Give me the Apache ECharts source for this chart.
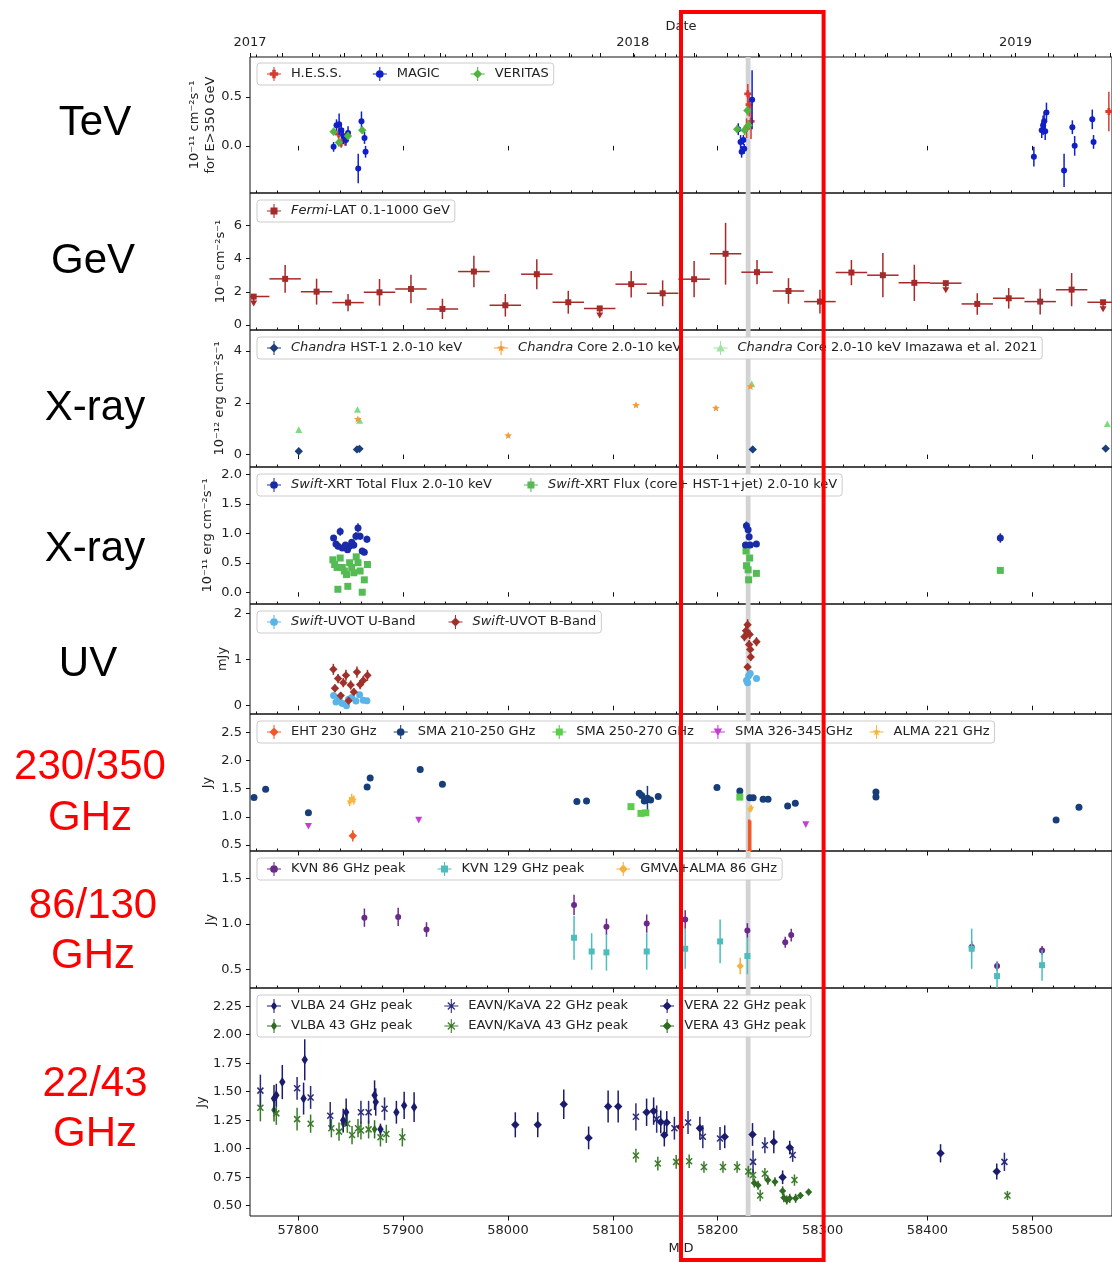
<!DOCTYPE html>
<html>
<head>
<meta charset="utf-8">
<script src="https://cdn.jsdelivr.net/npm/echarts@6/dist/echarts.min.js"></script>
<style>
  html, body { margin: 0; padding: 0; background: #ffffff; }
  #chart { width: 1112px; height: 1262px; }
</style>
</head>
<body>
<div id="chart"></div>
<script>
// ---------------------------------------------------------------
// Multi-wavelength light curves of M87, 2017-2019.
// Each point: [MJD, value, error]  (Fermi adds [.., x-half-width, upper-limit flag])
// ---------------------------------------------------------------

// TeV (10^-11 cm^-2 s^-1, E > 350 GeV)
const TEV_HESS = [
  [57838.5, 0.12, 0.06], [57841.0, 0.03, 0.05], [57844.5, 0.06, 0.06],
  [58227.5, 0.18, 0.10], [58228.7, 0.53, 0.10], [58230.0, 0.42, 0.12], [58231.8, 0.25, 0.18],
  [58573.0, 0.35, 0.20]
];
const TEV_MAGIC = [
  [57833.7, -0.01, 0.05], [57836.5, 0.21, 0.06], [57839.0, 0.22, 0.11], [57841.0, 0.16, 0.06],
  [57843.0, 0.10, 0.08], [57845.5, 0.06, 0.06], [57847.5, 0.13, 0.07],
  [57857.2, -0.23, 0.15], [57860.3, 0.25, 0.10], [57863.2, 0.08, 0.06], [57864.2, -0.06, 0.06],
  [58219.6, 0.17, 0.06], [58221.8, 0.04, 0.07], [58222.8, -0.06, 0.06], [58224.5, 0.06, 0.05],
  [58225.3, -0.03, 0.05], [58232.8, 0.47, 0.30],
  [58501.5, -0.11, 0.10], [58509.0, 0.16, 0.08], [58510.3, 0.21, 0.10], [58511.3, 0.25, 0.10],
  [58512.3, 0.15, 0.09], [58513.5, 0.34, 0.10], [58530.3, -0.25, 0.17], [58538.2, 0.19, 0.07],
  [58540.4, 0.00, 0.10], [58557.2, 0.27, 0.10], [58558.4, 0.04, 0.07]
];
const TEV_VERITAS = [
  [57833.7, 0.145, 0.04], [57838.8, 0.034, 0.04], [57847.4, 0.10, 0.04], [57861.0, 0.16, 0.04],
  [58218.6, 0.17, 0.04], [58225.6, 0.16, 0.05], [58228.3, 0.36, 0.05], [58229.4, 0.21, 0.05]
];

// GeV (10^-8 cm^-2 s^-1), 30-day bins: [MJD, flux, err, half-bin, upper limit]
const FERMI_LAT = [
  [57757.5, 1.71, 0, 15, 1], [57787.5, 2.78, 0.84, 15, 0], [57817.5, 2.01, 0.78, 15, 0],
  [57847.5, 1.35, 0.52, 15, 0], [57877.5, 1.97, 0.80, 15, 0], [57907.5, 2.17, 0.86, 15, 0],
  [57937.5, 0.97, 0.61, 15, 0], [57967.5, 3.22, 0.95, 15, 0], [57997.5, 1.19, 0.68, 15, 0],
  [58027.5, 3.06, 0.90, 15, 0], [58057.5, 1.37, 0.69, 15, 0], [58087.5, 1.00, 0, 15, 1],
  [58117.5, 2.46, 0.80, 15, 0], [58147.5, 1.91, 0.78, 15, 0], [58177.5, 2.76, 1.09, 15, 0],
  [58207.5, 4.29, 1.86, 15, 0], [58237.5, 3.18, 0.73, 15, 0], [58267.5, 2.05, 0.77, 15, 0],
  [58297.5, 1.41, 0.72, 15, 0], [58327.5, 3.16, 0.76, 15, 0], [58357.5, 3.00, 1.33, 15, 0],
  [58387.5, 2.54, 1.09, 15, 0], [58417.5, 2.52, 0, 15, 1], [58447.5, 1.27, 0.65, 15, 0],
  [58477.5, 1.61, 0.62, 15, 0], [58507.5, 1.41, 0.78, 15, 0], [58537.5, 2.13, 1.00, 15, 0],
  [58567.5, 1.37, 0, 15, 1]
];

// Chandra (10^-12 erg cm^-2 s^-1)
const CHANDRA_HST1 = [
  [57800.5, 0.13, 0.02], [57856.0, 0.20, 0.02], [57858.4, 0.22, 0.02], [58233.4, 0.20, 0.02], [58570.0, 0.23, 0.02]
];
const CHANDRA_CORE = [
  [57856.8, 1.36, 0.03], [58000.2, 0.73, 0.03], [58122.1, 1.90, 0.03], [58198.3, 1.79, 0.03], [58231.2, 2.62, 0.03]
];
const CHANDRA_CORE_IMAZAWA = [
  [57800.5, 0.94, 0.03], [57856.5, 1.72, 0.03], [57858.5, 1.30, 0.03], [58232.5, 2.71, 0.03], [58571.5, 1.17, 0.03]
];

// Swift-XRT (10^-11 erg cm^-2 s^-1)
const XRT_TOTAL = [
  [57833.7, 0.92, 0.05], [57836.0, 0.82, 0.05], [57838.0, 0.78, 0.05], [57840.0, 1.03, 0.07],
  [57842.0, 0.75, 0.05], [57845.0, 0.80, 0.05], [57847.0, 0.72, 0.05], [57849.0, 0.78, 0.05],
  [57851.0, 0.85, 0.05], [57853.0, 0.80, 0.06], [57855.0, 0.95, 0.07], [57857.0, 1.09, 0.08],
  [57859.0, 0.95, 0.06], [57861.0, 0.70, 0.05], [57863.0, 0.68, 0.05], [57865.5, 0.90, 0.06],
  [58226.5, 0.80, 0.05], [58227.4, 1.13, 0.07], [58229.0, 1.06, 0.06], [58230.0, 0.94, 0.06],
  [58231.0, 0.80, 0.05], [58236.9, 0.82, 0.05], [58469.5, 0.92, 0.08]
];
const XRT_CORE_JET = [
  [57833.0, 0.55, 0.02], [57834.7, 0.47, 0.02], [57837.0, 0.42, 0.02], [57837.8, 0.05, 0.02],
  [57840.0, 0.58, 0.02], [57842.0, 0.42, 0.02], [57844.0, 0.36, 0.02], [57846.0, 0.30, 0.02],
  [57847.3, 0.10, 0.02], [57849.0, 0.50, 0.02], [57851.0, 0.42, 0.02], [57853.0, 0.33, 0.02],
  [57855.3, 0.60, 0.02], [57857.0, 0.50, 0.02], [57859.0, 0.36, 0.02], [57861.0, 0.00, 0.02],
  [57863.0, 0.21, 0.02], [57866.0, 0.47, 0.02],
  [58227.0, 0.70, 0.02], [58230.5, 0.58, 0.02], [58227.5, 0.45, 0.02], [58229.0, 0.38, 0.02],
  [58229.5, 0.21, 0.02], [58236.9, 0.32, 0.02], [58469.5, 0.37, 0.02]
];

// Swift-UVOT (mJy)
const UVOT_U = [
  [57833.7, 0.22, 0.03], [57836.0, 0.08, 0.03], [57839.0, 0.15, 0.03], [57842.0, 0.05, 0.03],
  [57846.0, 0.00, 0.03], [57848.0, 0.14, 0.03], [57851.0, 0.18, 0.03], [57855.0, 0.10, 0.03],
  [57858.5, 0.24, 0.03], [57862.0, 0.12, 0.03], [57865.5, 0.11, 0.03],
  [58227.5, 0.55, 0.03], [58228.5, 0.50, 0.03], [58229.5, 0.65, 0.03], [58231.0, 0.70, 0.03], [58237.0, 0.59, 0.03]
];
const UVOT_B = [
  [57833.5, 0.79, 0.12], [57835.0, 0.38, 0.08], [57838.0, 0.59, 0.10], [57840.5, 0.22, 0.08],
  [57843.0, 0.50, 0.10], [57845.5, 0.66, 0.12], [57848.0, 0.11, 0.08], [57850.0, 0.45, 0.10],
  [57853.0, 0.30, 0.08], [57856.0, 0.73, 0.12], [57859.0, 0.46, 0.10], [57862.0, 0.55, 0.10],
  [57866.0, 0.66, 0.12],
  [58225.5, 1.50, 0.10], [58227.0, 1.63, 0.12], [58228.5, 1.76, 0.12], [58230.0, 1.33, 0.10],
  [58230.5, 1.55, 0.10], [58231.0, 1.22, 0.08], [58231.5, 1.06, 0.08], [58228.5, 0.84, 0.06],
  [58237.0, 1.39, 0.10]
];

// 230/350 GHz (Jy)
const EHT_230 = [[57852.0, 0.66, 0.10], [58229.5, 0.35, 0.60], [58230.5, 0.35, 0.60], [58231.5, 0.35, 0.58]];
const SMA_210_250 = [
  [57757.8, 1.345, 0.03], [57768.9, 1.49, 0.05], [57809.7, 1.07, 0.03], [57865.7, 1.53, 0.05],
  [57868.6, 1.69, 0.05], [57916.3, 1.84, 0.05], [57937.5, 1.58, 0.04], [58065.7, 1.27, 0.03],
  [58074.9, 1.28, 0.03], [58125.2, 1.42, 0.04], [58127.5, 1.38, 0.04], [58130.0, 1.28, 0.04],
  [58133.0, 1.33, 0.22], [58136.0, 1.30, 0.04], [58143.3, 1.36, 0.03], [58199.3, 1.52, 0.04],
  [58221.1, 1.46, 0.03], [58230.6, 1.34, 0.03], [58233.8, 1.34, 0.03], [58243.3, 1.31, 0.03],
  [58248.0, 1.31, 0.03], [58266.7, 1.19, 0.03], [58274.0, 1.24, 0.03], [58350.9, 1.44, 0.04],
  [58350.9, 1.35, 0.03], [58522.7, 0.94, 0.02], [58544.5, 1.17, 0.03]
];
const SMA_250_270 = [[58117.3, 1.18, 0.02], [58126.8, 1.06, 0.02], [58131.5, 1.07, 0.02], [58221.1, 1.35, 0.02]];
const SMA_326_345 = [[57809.7, 0.84, 0], [57914.9, 0.95, 0], [58284.0, 0.87, 0]];
const ALMA_221 = [[57849.0, 1.27, 0.08], [57851.0, 1.33, 0.08], [57853.0, 1.30, 0.08], [58230.8, 1.13, 0.05], [58232.0, 1.16, 0.05]];

// 86/130 GHz (Jy)
const KVN_86 = [
  [57863.1, 1.07, 0.10], [57895.3, 1.078, 0.10], [57922.3, 0.94, 0.08], [58063.0, 1.21, 0.11],
  [58093.9, 0.97, 0.09], [58132.3, 1.005, 0.10], [58169.0, 1.05, 0.10], [58228.3, 0.93, 0.08],
  [58264.4, 0.80, 0.06], [58270.1, 0.88, 0.07], [58442.2, 0.75, 0.06], [58466.4, 0.54, 0.05],
  [58509.3, 0.71, 0.05]
];
const KVN_129 = [
  [58063.0, 0.85, 0.24], [58079.8, 0.70, 0.20], [58093.9, 0.69, 0.20], [58132.3, 0.70, 0.20],
  [58169.0, 0.73, 0.22], [58202.3, 0.81, 0.24], [58228.3, 0.65, 0.20], [58442.2, 0.73, 0.22],
  [58466.4, 0.43, 0.15], [58509.3, 0.55, 0.17]
];
const GMVA_ALMA_86 = [[58221.5, 0.54, 0.09]];

// 22/43 GHz (Jy)
const VLBA_24 = [
  [57776.9, 1.44, 0.12], [57779.1, 1.47, 0.10], [57784.8, 1.585, 0.15], [57805.1, 1.44, 0.14],
  [57806.2, 1.78, 0.18], [57842.9, 1.25, 0.10], [57845.7, 1.32, 0.12], [57872.8, 1.47, 0.13],
  [57873.9, 1.41, 0.12], [57878.4, 1.17, 0.05], [57893.6, 1.32, 0.10], [57901.0, 1.38, 0.12],
  [57910.5, 1.365, 0.13]
];
const EAVN_22 = [
  [57763.9, 1.51, 0.14], [57798.9, 1.53, 0.10], [57811.8, 1.45, 0.10], [57830.5, 1.29, 0.12],
  [57859.8, 1.32, 0.10], [57867.1, 1.32, 0.10], [57882.3, 1.35, 0.10], [58122.0, 1.28, 0.12],
  [58141.8, 1.26, 0.12], [58158.7, 1.18, 0.10], [58171.7, 1.23, 0.10], [58185.8, 1.105, 0.10],
  [58202.2, 1.09, 0.10], [58233.7, 0.885, 0.10], [58245.0, 1.03, 0.07], [58271.5, 0.945, 0.06],
  [58473.4, 0.885, 0.08]
];
const VERA_22 = [
  [58007.0, 1.21, 0.11], [58028.4, 1.21, 0.11], [58053.2, 1.39, 0.13], [58076.9, 1.095, 0.10],
  [58095.5, 1.37, 0.14], [58105.1, 1.37, 0.14], [58132.2, 1.32, 0.12], [58138.9, 1.33, 0.12],
  [58145.7, 1.235, 0.10], [58149.1, 1.12, 0.10], [58151.4, 1.23, 0.10], [58164.4, 1.19, 0.10],
  [58183.0, 1.18, 0.10], [58206.7, 1.105, 0.10], [58233.2, 1.125, 0.10], [58253.5, 1.06, 0.10],
  [58261.9, 0.75, 0.06], [58268.7, 1.01, 0.06], [58412.5, 0.96, 0.08], [58466.1, 0.80, 0.07]
];
const VLBA_43 = [
  [57776.9, 1.34, 0.10], [57842.9, 1.22, 0.08], [57872.8, 1.17, 0.08]
];
const EAVN_43 = [
  [57763.9, 1.36, 0.12], [57779.1, 1.31, 0.10], [57798.9, 1.26, 0.10], [57811.8, 1.22, 0.08],
  [57831.6, 1.18, 0.08], [57838.9, 1.15, 0.08], [57846.8, 1.22, 0.08], [57851.3, 1.12, 0.08],
  [57857.0, 1.18, 0.08], [57859.8, 1.16, 0.08], [57867.1, 1.17, 0.08], [57878.4, 1.10, 0.08],
  [57884.0, 1.13, 0.08], [57899.3, 1.10, 0.08], [58122.0, 0.94, 0.06], [58142.9, 0.87, 0.06],
  [58160.4, 0.885, 0.06], [58172.8, 0.89, 0.06], [58186.9, 0.84, 0.05], [58205.0, 0.84, 0.05],
  [58218.5, 0.84, 0.05], [58229.2, 0.80, 0.05], [58233.7, 0.77, 0.05], [58240.5, 0.59, 0.05],
  [58245.0, 0.78, 0.05], [58273.2, 0.725, 0.05], [58476.3, 0.59, 0.04]
];
const VERA_43 = [
  [58234.9, 0.70, 0.04], [58238.5, 0.68, 0.04], [58247.8, 0.725, 0.04], [58254.6, 0.71, 0.04],
  [58261.9, 0.63, 0.04], [58263.1, 0.57, 0.04], [58265.9, 0.55, 0.04], [58268.7, 0.565, 0.04],
  [58274.3, 0.565, 0.04], [58278.9, 0.59, 0.03], [58286.7, 0.62, 0.03]
];

// Axis ticks
const MJD_TICKS = [57800, 57900, 58000, 58100, 58200, 58300, 58400, 58500];
const YEAR_TICKS = [57754, 58119, 58484];            // 1 Jan 2017 / 2018 / 2019
const Y_TICKS = [
  [0, 0.5],
  [0, 2, 4, 6],
  [0, 2, 4],
  [0, 0.5, 1.0, 1.5, 2.0],
  [0, 1, 2],
  [0.5, 1.0, 1.5, 2.0, 2.5],
  [0.5, 1.0, 1.5],
  [0.5, 0.75, 1.0, 1.25, 1.5, 1.75, 2.0, 2.25]
];
const Y_DECIMALS = [1, 0, 0, 1, 0, 1, 1, 2];
const Y_RANGES = [
  [-0.48, 0.905], [-0.3, 7.95], [-0.48, 4.81], [-0.2, 2.125],
  [-0.18, 2.21], [0.39, 2.83], [0.30, 1.80], [0.41, 2.41]
];
const Y_NAMES = [
  '10⁻¹¹ cm⁻²s⁻¹\nfor E>350 GeV', '10⁻⁸ cm⁻²s⁻¹', '10⁻¹² erg cm⁻²s⁻¹', '10⁻¹¹ erg cm⁻²s⁻¹',
  'mJy', 'Jy', 'Jy', 'Jy'
];
const BAND_LABELS = [
  ['TeV'], ['GeV'], ['X-ray'], ['X-ray'], ['UV'],
  ['230/350', 'GHz'], ['86/130', 'GHz'], ['22/43', 'GHz']
];

const X_MIN = 57754, X_MAX = 58576;
const EHT_WINDOW = [58226.7, 58231.3];
const HIGHLIGHT = [58165, 58301];

// ---------------- layout ----------------
const FONT = "'DejaVu Sans', Verdana, sans-serif";
const TXT = '#222222';
const PANEL_TOP = [57, 193, 330, 467, 604, 714, 851, 988];
const PANEL_H   = [136, 137, 137, 137, 110, 137, 137, 228];
const NAME_GAP  = [31, 21, 22, 34, 19, 34, 31, 40];
const LABEL_POS = [[95, 123], [93, 261], [95, 408], [95, 549], [88, 664],
                   [90, 767, 818], [93, 906, 956], [95, 1084, 1134]];

// ---------------- marker shapes ----------------
function markerEl(sym, cx, cy, s, col) {
  const r = s / 2;
  const poly = pts => ({ type: 'polygon', shape: { points: pts }, style: { fill: col } });
  switch (sym) {
    case 'o': return { type: 'circle', shape: { cx, cy, r }, style: { fill: col } };
    case 's': return { type: 'rect', shape: { x: cx - r, y: cy - r, width: s, height: s }, style: { fill: col } };
    case 'D': return poly([[cx, cy - r * 1.2], [cx + r * 1.2, cy], [cx, cy + r * 1.2], [cx - r * 1.2, cy]]);
    case 'd': return poly([[cx, cy - r * 1.25], [cx + r * 0.8, cy], [cx, cy + r * 1.25], [cx - r * 0.8, cy]]);
    case '^': return poly([[cx, cy - r * 1.1], [cx + r, cy + r * 0.8], [cx - r, cy + r * 0.8]]);
    case 'v': return poly([[cx - r, cy - r * 0.8], [cx + r, cy - r * 0.8], [cx, cy + r * 1.1]]);
    case '*': {
      const pts = [];
      for (let k = 0; k < 10; k++) {
        const a = -Math.PI / 2 + k * Math.PI / 5, rr = k % 2 ? r * 0.5 : r * 1.15;
        pts.push([cx + rr * Math.cos(a), cy + rr * Math.sin(a)]);
      }
      return poly(pts);
    }
    case 'P': {
      const w = r * 0.4;
      return poly([[cx - w, cy - r], [cx + w, cy - r], [cx + w, cy - w], [cx + r, cy - w], [cx + r, cy + w],
        [cx + w, cy + w], [cx + w, cy + r], [cx - w, cy + r], [cx - w, cy + w], [cx - r, cy + w],
        [cx - r, cy - w], [cx - w, cy - w]]);
    }
    case 'x': return {
      type: 'group', children: [
        { type: 'line', shape: { x1: cx - r, y1: cy - r, x2: cx + r, y2: cy + r }, style: { stroke: col, lineWidth: 1.5 } },
        { type: 'line', shape: { x1: cx - r, y1: cy + r, x2: cx + r, y2: cy - r }, style: { stroke: col, lineWidth: 1.5 } }
      ]
    };
  }
}

const BAR = 'M9.25 0h1.5v20h-1.5z M0 9.25h20v1.5h-20z ';
const ICON = {
  o: 'path://' + BAR + 'M15.5 10A5.5 5.5 0 1 1 4.5 10A5.5 5.5 0 1 1 15.5 10z',
  s: 'path://' + BAR + 'M5 5h10v10h-10z',
  D: 'path://' + BAR + 'M10 3.5L16.5 10L10 16.5L3.5 10z',
  d: 'path://' + BAR + 'M10 3.5L14.5 10L10 16.5L5.5 10z',
  '^': 'path://' + BAR + 'M10 4L16 15L4 15z',
  v: 'path://' + BAR + 'M4 5L16 5L10 16z',
  '*': 'path://' + BAR + 'M10 4L11.47 7.98L15.71 8.15L12.38 10.77L13.53 14.85L10 12.5L6.47 14.85L7.62 10.77L4.29 8.15L8.53 7.98z',
  P: 'path://' + BAR + 'M7.5 4h5v3.5h3.5v5h-3.5v3.5h-5v-3.5h-3.5v-5h3.5z',
  x: 'path://' + BAR + 'M4.4 5.6L5.6 4.4L15.6 14.4L14.4 15.6z M14.4 4.4L15.6 5.6L5.6 15.6L4.4 14.4z'
};

// error-bar point renderer
function errRenderer(sym, size, lw) {
  return function (params, api) {
    const x = api.value(0), y = api.value(1), ye = api.value(2), xe = api.value(3), ul = api.value(4);
    const col = api.visual('color');
    const c = api.coord([x, y]);
    const kids = [];
    if (ye > 0) {
      const a = api.coord([x, y - ye]), b = api.coord([x, y + ye]);
      kids.push({ type: 'line', shape: { x1: c[0], y1: a[1], x2: c[0], y2: b[1] }, style: { stroke: col, lineWidth: lw } });
    }
    if (xe > 0) {
      const a = api.coord([x - xe, y]), b = api.coord([x + xe, y]);
      kids.push({ type: 'line', shape: { x1: a[0], y1: c[1], x2: b[0], y2: c[1] }, style: { stroke: col, lineWidth: lw } });
    }
    if (ul > 0) {
      kids.push({ type: 'line', shape: { x1: c[0], y1: c[1], x2: c[0], y2: c[1] + 6 }, style: { stroke: col, lineWidth: lw } });
      kids.push({ type: 'polygon', shape: { points: [[c[0] - 3.5, c[1] + 4], [c[0] + 3.5, c[1] + 4], [c[0], c[1] + 10]] }, style: { fill: col } });
    }
    kids.push(markerEl(sym, c[0], c[1], size, col));
    return { type: 'group', children: kids };
  };
}

const SERIES_DEF = [
  // [name, panel, data, symbol, color, size, opacity]
  ['H.E.S.S.', 0, TEV_HESS, 'P', '#d43d2f', 7],
  ['MAGIC', 0, TEV_MAGIC, 'o', '#1020c8', 6],
  ['VERITAS', 0, TEV_VERITAS, 'D', '#52b440', 7],
  ['Fermi-LAT 0.1-1000 GeV', 1, FERMI_LAT, 's', '#a62a2a', 6],
  ['Chandra HST-1 2.0-10 keV', 2, CHANDRA_HST1, 'D', '#1c3f7c', 7],
  ['Chandra Core 2.0-10 keV Imazawa et al. 2021', 2, CHANDRA_CORE_IMAZAWA, '^', '#7fdb7f', 7, 0.75],
  ['Chandra Core 2.0-10 keV', 2, CHANDRA_CORE, '*', '#f39a3a', 7],
  ['Swift-XRT Flux (core+ HST-1+jet) 2.0-10 keV', 3, XRT_CORE_JET, 's', '#55bb55', 7],
  ['Swift-XRT Total Flux 2.0-10 keV', 3, XRT_TOTAL, 'o', '#1a2ba8', 7],
  ['Swift-UVOT U-Band', 4, UVOT_U, 'o', '#5ab4e8', 7],
  ['Swift-UVOT B-Band', 4, UVOT_B, 'D', '#a0302a', 7],
  ['EHT 230 GHz', 5, EHT_230, 'D', '#f0582a', 7],
  ['SMA 210-250 GHz', 5, SMA_210_250, 'o', '#173d7a', 7],
  ['SMA 250-270 GHz', 5, SMA_250_270, 's', '#5ccc4c', 7],
  ['SMA 326-345 GHz', 5, SMA_326_345, 'v', '#c43fcf', 7],
  ['ALMA 221 GHz', 5, ALMA_221, '*', '#f7b53e', 6],
  ['KVN 86 GHz peak', 6, KVN_86, 'o', '#6a2a8c', 6],
  ['KVN 129 GHz peak', 6, KVN_129, 's', '#4cbcbc', 6],
  ['GMVA+ALMA 86 GHz', 6, GMVA_ALMA_86, 'D', '#f5b041', 6],
  ['VLBA 43 GHz peak', 7, VLBA_43, 'd', '#2f6b22', 7],
  ['EAVN/KaVA 43 GHz peak', 7, EAVN_43, 'x', '#3a7a2a', 6],
  ['VERA 43 GHz peak', 7, VERA_43, 'D', '#2f6b22', 6],
  ['VLBA 24 GHz peak', 7, VLBA_24, 'd', '#1c1c6e', 8],
  ['EAVN/KaVA 22 GHz peak', 7, EAVN_22, 'x', '#2a2a7a', 6],
  ['VERA 22 GHz peak', 7, VERA_22, 'D', '#1c1c6e', 7]
];
const SYM_OF = {};
SERIES_DEF.forEach(d => { SYM_OF[d[0]] = d[3]; });

const LEGENDS = [
  { panel: 0, items: ['H.E.S.S.', 'MAGIC', 'VERITAS'], gap: 31, top: 63 },
  { panel: 1, items: ['Fermi-LAT 0.1-1000 GeV'], gap: 31, top: 200 },
  { panel: 2, items: ['Chandra HST-1 2.0-10 keV', 'Chandra Core 2.0-10 keV', 'Chandra Core 2.0-10 keV Imazawa et al. 2021'], gap: 32, top: 337 },
  { panel: 3, items: ['Swift-XRT Total Flux 2.0-10 keV', 'Swift-XRT Flux (core+ HST-1+jet) 2.0-10 keV'], gap: 32, top: 474 },
  { panel: 4, items: ['Swift-UVOT U-Band', 'Swift-UVOT B-Band'], gap: 33, top: 611 },
  { panel: 5, items: ['EHT 230 GHz', 'SMA 210-250 GHz', 'SMA 250-270 GHz', 'SMA 326-345 GHz', 'ALMA 221 GHz'], gap: 17, top: 721 },
  { panel: 6, items: ['KVN 86 GHz peak', 'KVN 129 GHz peak', 'GMVA+ALMA 86 GHz'], gap: 32, top: 858 },
  { panel: 7, items: ['VLBA 24 GHz peak', 'EAVN/KaVA 22 GHz peak', 'VERA 22 GHz peak'], gap: 32, top: 995, tall: true },
  { panel: 7, items: ['VLBA 43 GHz peak', 'EAVN/KaVA 43 GHz peak', 'VERA 43 GHz peak'], gap: 32, top: 1015, bare: true }
];

function legendLabel(name) {
  for (const p of ['Fermi', 'Chandra', 'Swift']) {
    if (name.startsWith(p)) return '{it|' + p + '}' + name.slice(p.length);
  }
  return name;
}

// ---------------- build option ----------------
const minorTicks = [];
for (let v = 57760; v < X_MAX; v += 20) if (v % 100 !== 0) minorTicks.push(v);
const monthTicks = [];
for (let y = 2017; y <= 2019; y++) {
  for (let m = 0; m < 12; m++) {
    const mjd = Date.UTC(y, m, 1) / 86400000 + 40587;
    if (mjd >= X_MIN && mjd <= X_MAX) monthTicks.push(mjd);
  }
}

const grid = [], xAxis = [], yAxis = [], series = [];
for (let i = 0; i < 8; i++) {
  grid.push({ left: 250, right: -4, top: PANEL_TOP[i], height: PANEL_H[i], show: true,
    borderColor: '#111', borderWidth: 1, backgroundColor: 'transparent' });
  const last = i === 7;
  xAxis.push({
    type: 'value', gridIndex: i, min: X_MIN, max: X_MAX,
    axisLine: { show: false }, splitLine: { show: false },
    axisTick: { show: true, customValues: MJD_TICKS, length: 4.5, lineStyle: { color: '#111', width: 1 } },
    axisLabel: { show: last, customValues: MJD_TICKS, formatter: v => String(Math.round(v)),
      fontFamily: FONT, fontSize: 13, color: TXT, margin: 8 },
    name: last ? 'MJD' : '', nameLocation: 'middle', nameGap: 26, nameMoveOverlap: false,
    nameTextStyle: { fontFamily: FONT, fontSize: 13, color: TXT }
  });
  xAxis.push({
    type: 'value', gridIndex: i, min: X_MIN, max: X_MAX,
    axisLine: { show: false }, splitLine: { show: false },
    axisTick: { show: true, customValues: minorTicks, length: 2.5, lineStyle: { color: '#111', width: 1 } },
    axisLabel: { show: false }
  });
  const dec = Y_DECIMALS[i];
  yAxis.push({
    type: 'value', gridIndex: i, min: Y_RANGES[i][0], max: Y_RANGES[i][1],
    axisLine: { show: false }, splitLine: { show: false },
    axisTick: { show: true, customValues: Y_TICKS[i], length: 4, lineStyle: { color: '#111', width: 1 } },
    axisLabel: { customValues: Y_TICKS[i], formatter: v => Number(v).toFixed(dec),
      fontFamily: FONT, fontSize: 13, color: TXT, margin: 8 },
    name: Y_NAMES[i], nameLocation: 'middle', nameRotate: 90, nameGap: NAME_GAP[i], nameMoveOverlap: false,
    nameTextStyle: { fontFamily: FONT, fontSize: 13, color: TXT, lineHeight: 16 }
  });
  // grey observing window
  series.push({
    type: 'custom', xAxisIndex: 2 * i, yAxisIndex: i, z: 1, silent: true,
    data: [EHT_WINDOW], encode: { x: [0, 1] }, clip: true,
    renderItem: (params, api) => {
      const a = api.coord([api.value(0), Y_RANGES[i][0]]);
      const b = api.coord([api.value(1), Y_RANGES[i][0]]);
      const cs = params.coordSys;
      return { type: 'rect', shape: { x: a[0], y: cs.y, width: b[0] - a[0], height: cs.height }, style: { fill: '#d3d3d3' } };
    }
  });
}
// calendar axis on top
xAxis.push({
  type: 'value', gridIndex: 0, position: 'top', min: X_MIN, max: X_MAX,
  axisLine: { show: false }, splitLine: { show: false },
  axisTick: { show: true, customValues: monthTicks, length: 4, lineStyle: { color: '#111', width: 1 } },
  axisLabel: { customValues: YEAR_TICKS, formatter: v => String(new Date((v - 40587) * 86400000).getUTCFullYear()),
    fontFamily: FONT, fontSize: 13, color: TXT, margin: 8 },
  name: 'Date', nameLocation: 'middle', nameGap: 24,
  nameTextStyle: { fontFamily: FONT, fontSize: 13, color: TXT }
});

SERIES_DEF.forEach(([name, panel, data, sym, color, size, alpha]) => {
  series.push({
    type: 'custom', name, xAxisIndex: 2 * panel, yAxisIndex: panel, z: 3, clip: true,
    itemStyle: { color, opacity: alpha || 1 },
    dimensions: ['x', 'y', 'ye', 'xe', 'ul'],
    encode: { x: 0, y: 1 },
    data: data.map(d => [d[0], d[1], d[2] || 0, d[3] || 0, d[4] || 0]),
    renderItem: errRenderer(sym, size, 1.5)
  });
});

const legend = LEGENDS.map(L => ({
  left: 257, top: L.top, orient: 'horizontal', itemGap: L.gap,
  itemWidth: 14, itemHeight: 14, selectedMode: false, z: 10,
  padding: L.tall ? [4, 5, 24, 10] : [4, 5, 4, 10],
  backgroundColor: L.bare ? 'transparent' : 'rgba(255,255,255,0.85)',
  borderColor: L.bare ? 'transparent' : '#cccccc', borderWidth: L.bare ? 0 : 1, borderRadius: 3,
  data: L.items.map(n => ({ name: n, icon: ICON[SYM_OF[n]] })),
  formatter: legendLabel,
  textStyle: { fontFamily: FONT, fontSize: 13, color: TXT, padding: [0, 0, 0, 5],
    rich: { it: { fontFamily: FONT, fontSize: 13, color: TXT, fontStyle: 'italic' } } }
}));

const chart = echarts.init(document.getElementById('chart'), null, { width: 1112, height: 1262 });
chart.setOption({
  animation: false,
  backgroundColor: '#ffffff',
  grid, xAxis, yAxis, series, legend
});

// band labels on the left and the highlighted interval frame
const graphics = [];
BAND_LABELS.forEach((lines, i) => {
  const pos = LABEL_POS[i];
  lines.forEach((t, k) => {
    graphics.push({
      type: 'text', x: pos[0], y: pos[1 + k], z: 20,
      style: { text: t, fill: i >= 5 ? '#ff0000' : '#000000', font: '42px "Liberation Sans", Arial, sans-serif',
        align: 'center', verticalAlign: 'middle' }
    });
  });
});
const x0 = chart.convertToPixel({ xAxisIndex: 14 }, HIGHLIGHT[0]);
const x1 = chart.convertToPixel({ xAxisIndex: 14 }, HIGHLIGHT[1]);
graphics.push({
  type: 'rect', z: 30, silent: true,
  shape: { x: x0, y: 12, width: x1 - x0, height: 1248 },
  style: { fill: 'none', stroke: '#ff0000', lineWidth: 4 }
});
chart.setOption({ graphic: graphics });
</script>
</body>
</html>
